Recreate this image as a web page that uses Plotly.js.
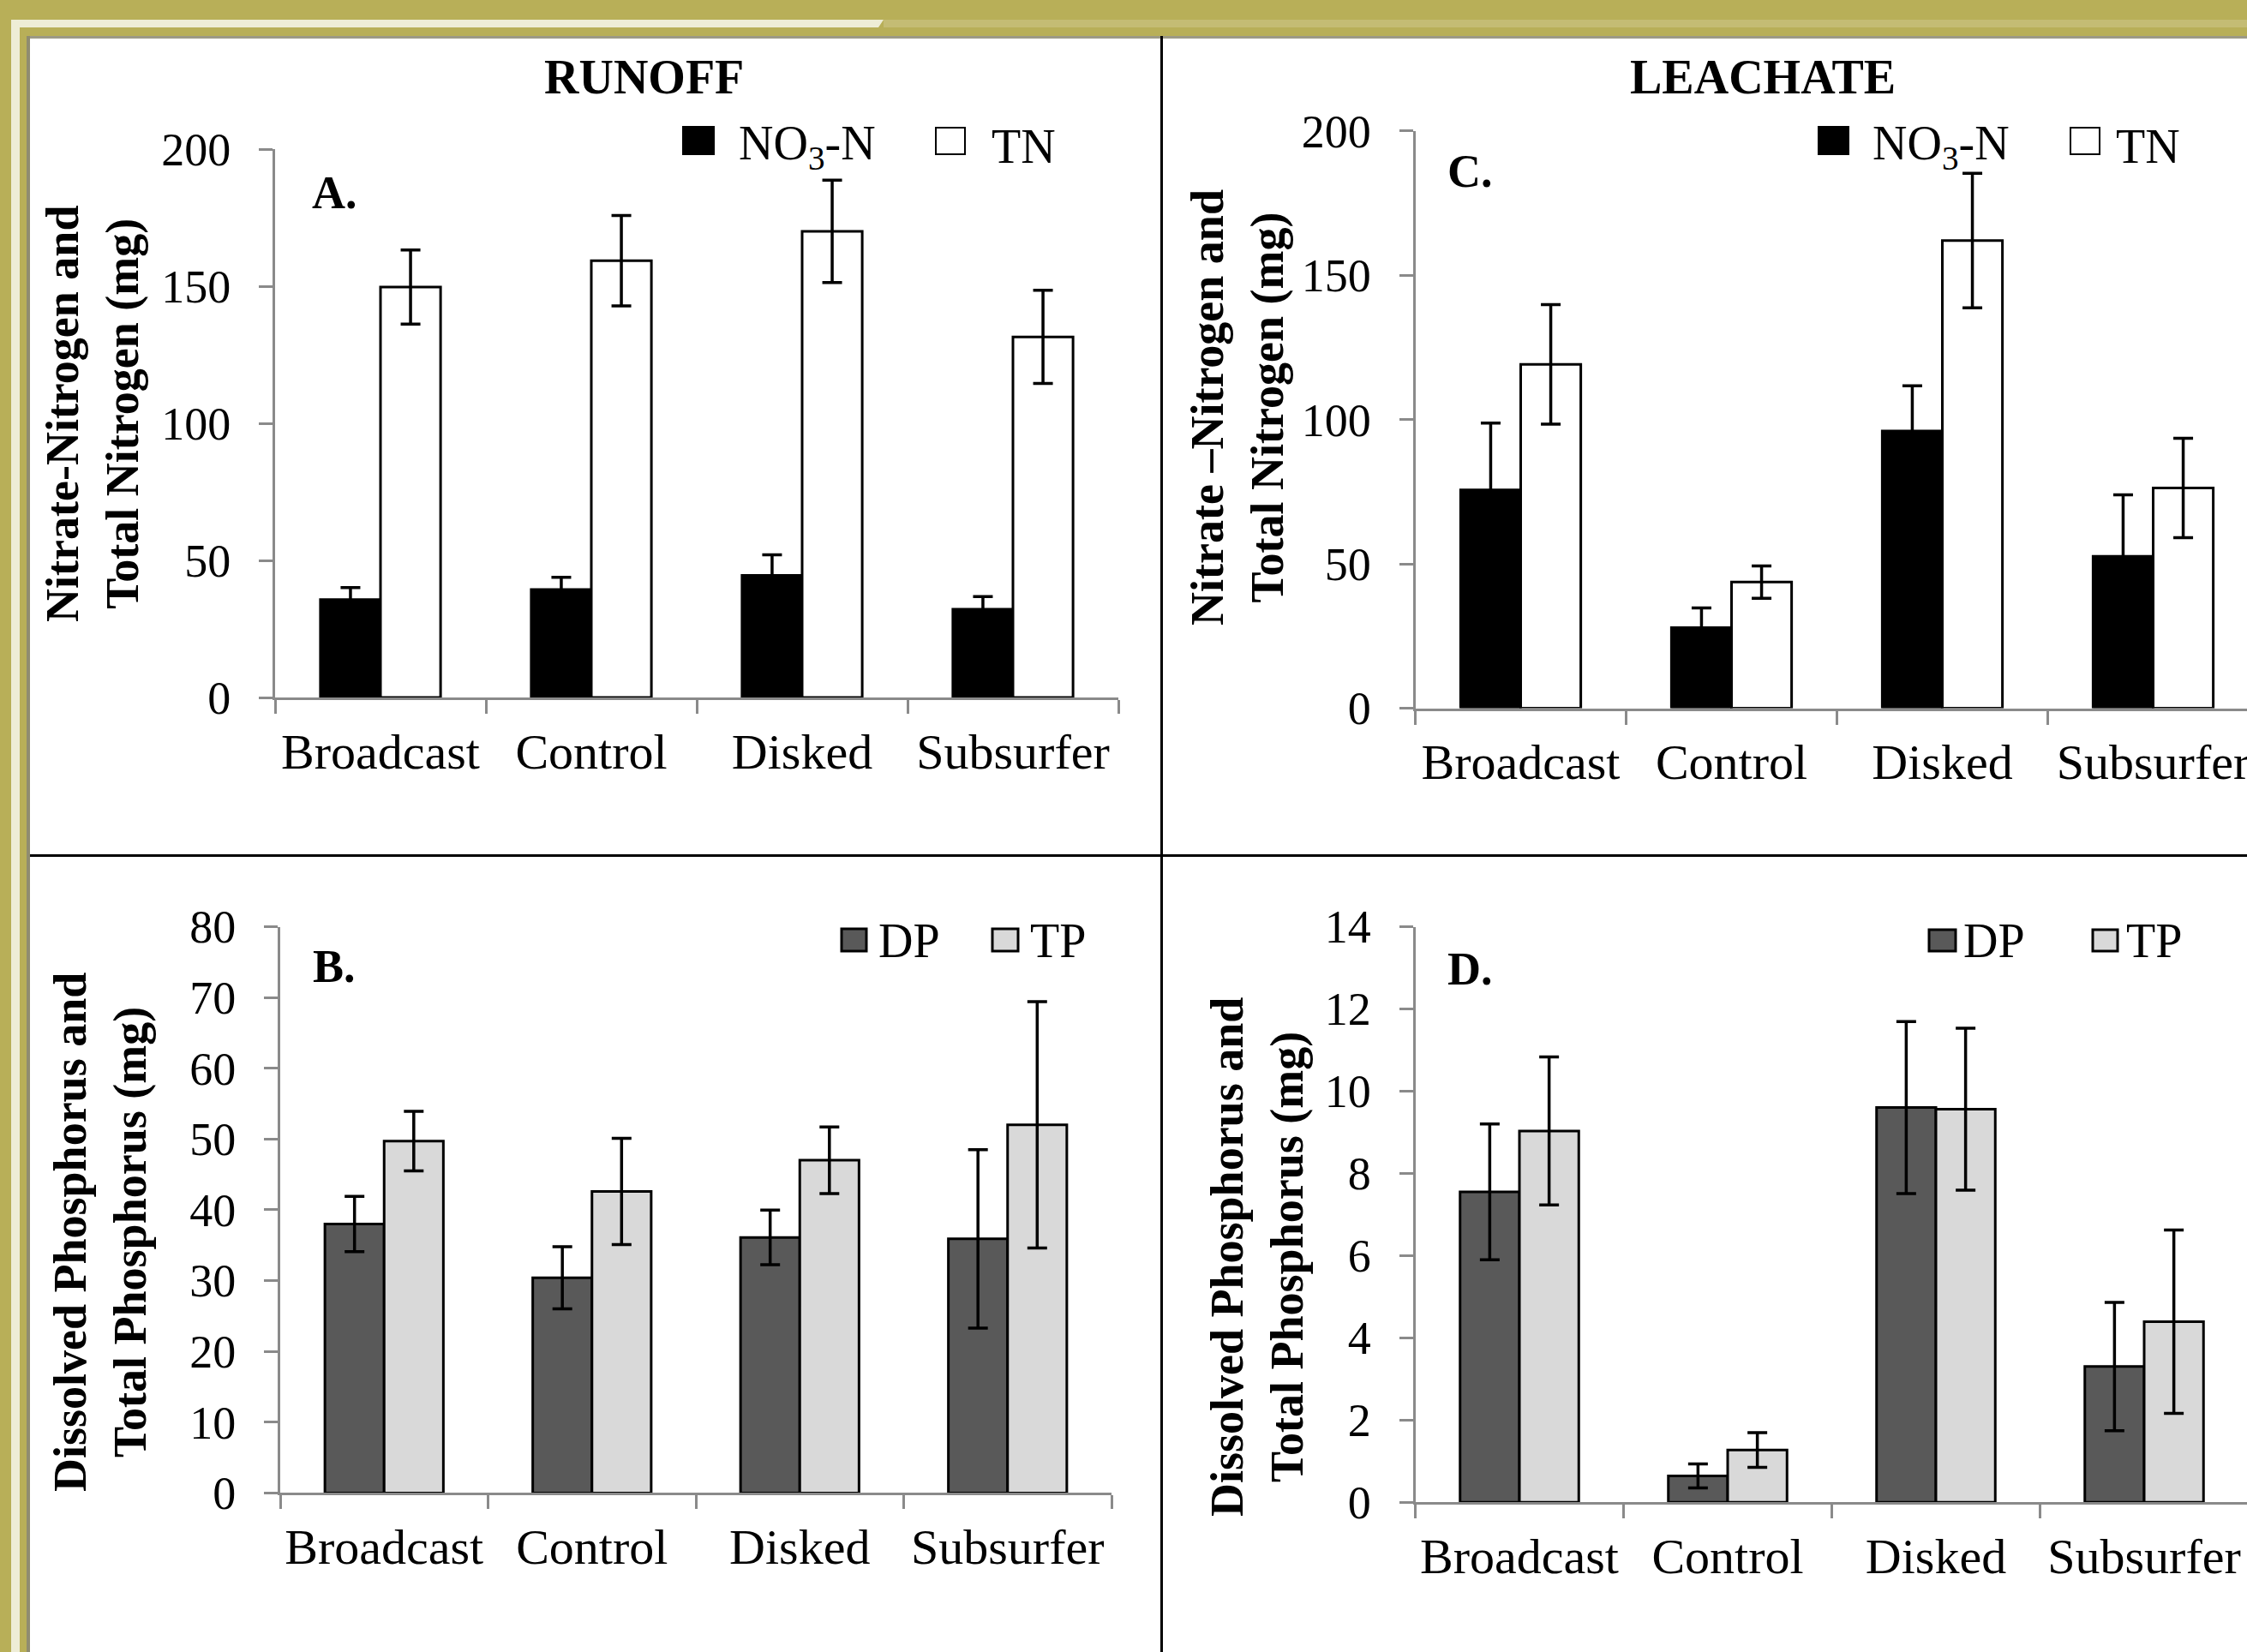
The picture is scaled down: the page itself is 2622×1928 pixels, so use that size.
<!DOCTYPE html>
<html><head><meta charset="utf-8">
<script src="https://cdn.plot.ly/plotly-3.0.1.min.js"></script>
<style>html,body{margin:0;padding:0;background:#fff;overflow:hidden}#chart{width:2622px;height:1928px}</style>
</head><body><div id="chart"></div>
<script>
// ---------- data ----------
const categories = ['Broadcast', 'Control', 'Disked', 'Subsurfer'];

// Runoff nitrogen (mg)
const runoffNO3 = [35.7, 39.4, 44.5, 32.2];
const runoffNO3Err = [4.4, 4.4, 7.5, 4.6];
const runoffTN = [149.7, 159.3, 170.0, 131.5];
const runoffTNErr = [13.5, 16.5, 18.7, 17.0];

// Leachate nitrogen (mg)
const leachNO3 = [75.6, 27.9, 96.0, 52.6];
const leachNO3Err = [23.2, 6.8, 15.7, 21.3];
const leachTN = [119.1, 43.7, 162.0, 76.3];
const leachTNErr = [20.7, 5.6, 23.3, 17.2];

// Runoff phosphorus (mg)
const runoffDP = [38.0, 30.4, 36.1, 35.9];
const runoffDPErr = [3.9, 4.4, 3.85, 12.6];
const runoffTP = [49.7, 42.6, 47.0, 52.0];
const runoffTPErr = [4.2, 7.5, 4.7, 17.4];

// Leachate phosphorus (mg)
const leachDP = [7.55, 0.64, 9.6, 3.3];
const leachDPErr = [1.65, 0.29, 2.09, 1.56];
const leachTP = [9.03, 1.27, 9.56, 4.39];
const leachTPErr = [1.8, 0.42, 1.97, 2.23];

// ---------- layout helpers ----------
const W = 2622, H = 1928;
const X = p => p / W;
const Y = p => 1 - p / H;
const SERIF = 'Liberation Serif, Times New Roman, serif';
const AX_GRAY = '#8a8a8a';

function bar(name, y, err, fill, xa, ya) {
  return {
    type: 'bar', name: name, x: categories, y: y,
    xaxis: xa, yaxis: ya, showlegend: false,
    marker: {color: fill, line: {color: '#000', width: 3}},
    error_y: {type: 'data', array: err, visible: true, color: '#000', thickness: 3.5, width: 11.5}
  };
}

const data = [
  bar('NO3-N', runoffNO3, runoffNO3Err, '#000000', 'x', 'y'),
  bar('TN', runoffTN, runoffTNErr, '#ffffff', 'x', 'y'),
  bar('NO3-N', leachNO3, leachNO3Err, '#000000', 'x2', 'y2'),
  bar('TN', leachTN, leachTNErr, '#ffffff', 'x2', 'y2'),
  bar('DP', runoffDP, runoffDPErr, '#595959', 'x3', 'y3'),
  bar('TP', runoffTP, runoffTPErr, '#d9d9d9', 'x3', 'y3'),
  bar('DP', leachDP, leachDPErr, '#595959', 'x4', 'y4'),
  bar('TP', leachTP, leachTPErr, '#d9d9d9', 'x4', 'y4')
];

function xAxis(left, right, catPx, anchor) {
  return {
    type: 'category', anchor: anchor,
    domain: [X(left), Math.min(1, X(right))],
    range: [-0.5, -0.5 + (Math.min(right, W) - left) / catPx],
    showline: true, linecolor: AX_GRAY, linewidth: 3,
    ticks: 'outside', tickson: 'boundaries', ticklen: 16, tickwidth: 3, tickcolor: AX_GRAY,
    showgrid: false, zeroline: false, fixedrange: true, tickangle: 0,
    tickfont: {family: SERIF, size: 58, color: '#000'},
    ticklabelstandoff: 10
  };
}
function yAxis(top, bottom, max, step, anchor) {
  return {
    anchor: anchor,
    domain: [Y(bottom), Y(top)],
    range: [0, max], tick0: 0, dtick: step,
    showline: true, linecolor: AX_GRAY, linewidth: 3,
    ticks: 'outside', ticklen: 16, tickwidth: 3, tickcolor: AX_GRAY,
    showgrid: false, zeroline: false, fixedrange: true,
    tickfont: {family: SERIF, size: 54, color: '#000'},
    ticklabelstandoff: 22
  };
}

function ann(text, xp, yp, size, opts) {
  return Object.assign({
    text: text, xref: 'paper', yref: 'paper', x: X(xp), y: Y(yp),
    xanchor: 'center', yanchor: 'middle', showarrow: false,
    font: {family: SERIF, size: size, color: '#000'}
  }, opts || {});
}
function rect(x0, y0, x1, y1, fill, lineColor, lineW, layer) {
  return {type: 'rect', xref: 'paper', yref: 'paper',
    x0: X(x0), x1: X(x1), y0: Y(y0), y1: Y(y1),
    fillcolor: fill, line: {color: lineColor || fill, width: lineW || 0}, layer: layer || 'above'};
}

const GOLD = '#b8af58', CREAM = '#eeedd6', LGOLD = '#c4bc74';

const shapes = [
  // slide frame
  rect(0, 0, W, 42, GOLD, GOLD, 0, 'below'),
  rect(0, 0, 33, H, GOLD, GOLD, 0, 'below'),
  {type: 'path', xref: 'paper', yref: 'paper', layer: 'below',
   path: `M ${X(13)} ${Y(23)} L ${X(1031)} ${Y(23)} L ${X(1025)} ${Y(32)} L ${X(23)} ${Y(32)} L ${X(23)} ${Y(H)} L ${X(13)} ${Y(H)} Z`,
   fillcolor: CREAM, line: {width: 0}},
  rect(1031, 23, W, 32, LGOLD, LGOLD, 0, 'below'),
  rect(33, 42, W, 45, '#9c9a86', '#9c9a86', 0, 'below'),
  rect(31, 42, 35, H, '#8f8c70', '#8f8c70', 0, 'below'),
  // dividing lines
  {type: 'line', xref: 'paper', yref: 'paper', x0: X(1355.5), x1: X(1355.5), y0: Y(42), y1: Y(H), line: {color: '#000', width: 3}},
  {type: 'line', xref: 'paper', yref: 'paper', x0: X(35), x1: 1, y0: Y(998.5), y1: Y(998.5), line: {color: '#000', width: 3}},
  // legend swatches
  rect(796, 147, 834, 181, '#000', '#000', 0),
  rect(1092, 149, 1126, 180, '#fff', '#000', 2),
  rect(2121, 147, 2158, 181, '#000', '#000', 0),
  rect(2416, 149, 2450, 180, '#fff', '#000', 2),
  rect(982, 1084, 1011, 1110, '#595959', '#000', 3),
  rect(1158, 1084, 1188, 1110, '#d9d9d9', '#000', 3),
  rect(2251, 1085, 2282, 1110, '#595959', '#000', 3),
  rect(2442, 1085, 2471, 1110, '#d9d9d9', '#000', 3)
];

const annotations = [
  ann('<b>RUNOFF</b>', 751, 90, 56),
  ann('<b>LEACHATE</b>', 2057, 90, 56),
  ann('<b>A.</b>', 362, 225, 54, {xanchor: 'left'}),
  ann('<b>B.</b>', 363, 1128, 54, {xanchor: 'left'}),
  ann('<b>C.</b>', 1687, 200, 54, {xanchor: 'left'}),
  ann('<b>D.</b>', 1687, 1131, 54, {xanchor: 'left'}),
  ann('<b>Nitrate-Nitrogen and</b><br><b>Total Nitrogen (mg)</b>', 108, 483, 54, {textangle: -90}),
  ann('<b>Nitrate \u2013Nitrogen and</b><br><b>Total Nitrogen (mg)</b>', 1444, 476, 54, {textangle: -90}),
  ann('<b>Dissolved Phosphorus and</b><br><b>Total Phosphorus (mg)</b>', 117, 1438, 54, {textangle: -90}),
  ann('<b>Dissolved Phosphorus and</b><br><b>Total Phosphorus (mg)</b>', 1467, 1467, 54, {textangle: -90}),
  // legends
  ann('NO<sub>3</sub>-N', 860, 171, 56, {xanchor: 'left'}),
  ann('TN', 1155, 171, 56, {xanchor: 'left'}),
  ann('NO<sub>3</sub>-N', 2183, 171, 56, {xanchor: 'left'}),
  ann('TN', 2467, 171, 56, {xanchor: 'left'}),
  ann('DP', 1023, 1098, 56, {xanchor: 'left'}),
  ann('TP', 1200, 1098, 56, {xanchor: 'left'}),
  ann('DP', 2289, 1098, 56, {xanchor: 'left'}),
  ann('TP', 2479, 1098, 56, {xanchor: 'left'})
];

const layout = {
  width: W, height: H,
  margin: {l: 0, r: 0, t: 0, b: 0, pad: 0},
  paper_bgcolor: '#ffffff', plot_bgcolor: 'rgba(0,0,0,0)',
  barmode: 'group', bargap: 0.43, bargroupgap: 0,
  showlegend: false, hovermode: false,
  xaxis: xAxis(321, 1305, 246, 'y'),
  yaxis: yAxis(174, 814, 200, 50, 'x'),
  xaxis2: xAxis(1651.5, 2635.5, 246, 'y2'),
  yaxis2: yAxis(152.8, 826.5, 200, 50, 'x2'),
  xaxis3: xAxis(327, 1297, 242.5, 'y3'),
  yaxis3: yAxis(1081.5, 1742.4, 80, 10, 'x3'),
  xaxis4: xAxis(1651.5, 2623.5, 243, 'y4'),
  yaxis4: yAxis(1081.5, 1753.2, 14, 2, 'x4'),
  shapes: shapes,
  annotations: annotations
};

Plotly.newPlot('chart', data, layout, {staticPlot: true, displayModeBar: false});
</script></body></html>
